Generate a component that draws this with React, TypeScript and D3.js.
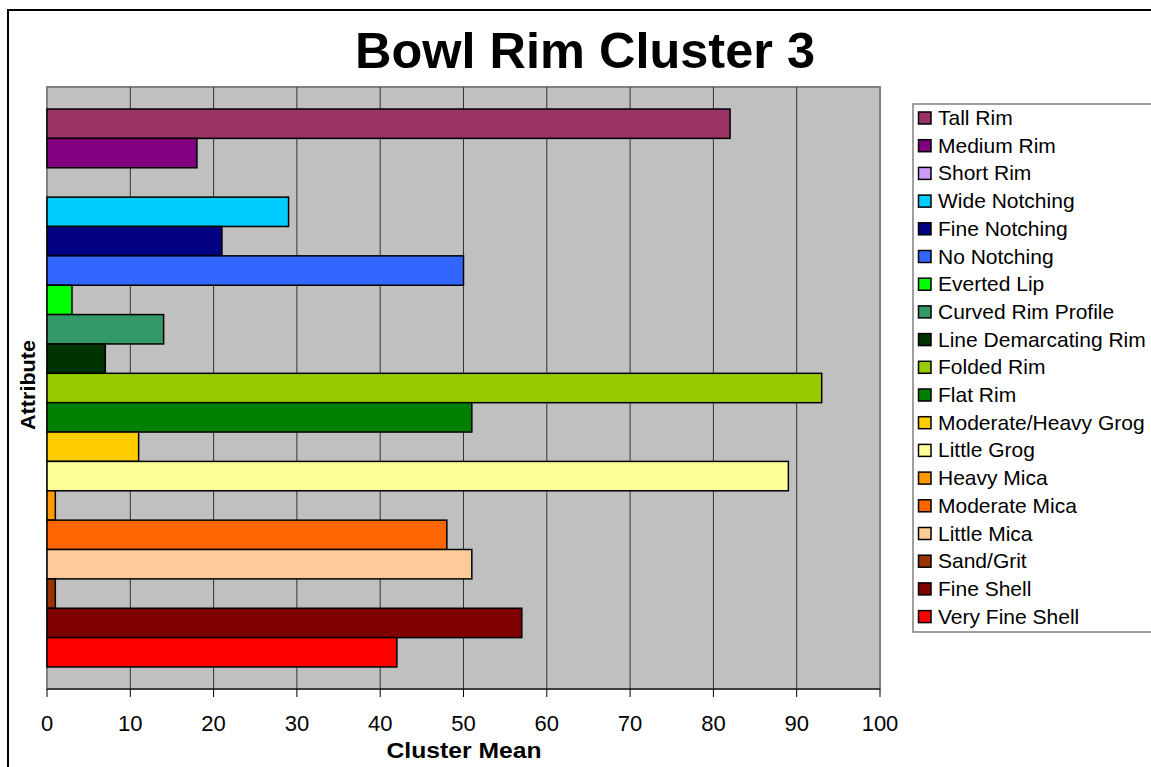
import React from "react";
import * as d3 from "d3";

const seriesNames = [
  "Tall Rim", "Medium Rim", "Short Rim", "Wide Notching", "Fine Notching", "No Notching",
  "Everted Lip", "Curved Rim Profile", "Line Demarcating Rim", "Folded Rim", "Flat Rim",
  "Moderate/Heavy Grog", "Little Grog", "Heavy Mica", "Moderate Mica", "Little Mica",
  "Sand/Grit", "Fine Shell", "Very Fine Shell",
];
const seriesValues = [82, 18, 0, 29, 21, 50, 3, 14, 7, 93, 51, 11, 89, 1, 48, 51, 1, 57, 42];
const seriesColors = [
  "#993366", "#800080", "#CC99FF", "#00CCFF", "#000080", "#3366FF", "#00FF00", "#339966",
  "#003300", "#99CC00", "#008000", "#FFCC00", "#FFFF99", "#FF9900", "#FF6600", "#FFCC99",
  "#993300", "#800000", "#FF0000",
];
const xTicks = [0, 10, 20, 30, 40, 50, 60, 70, 80, 90, 100];

const W = 1151, H = 767;
const plot = { left: 47, right: 880, top: 87, bottom: 689 };
const FONT = "Arial, 'Liberation Sans', sans-serif";

export default function App() {
  const x = d3.scaleLinear().domain([0, 100]).range([plot.left, plot.right]);
  const y = d3
    .scaleBand<string>()
    .domain(seriesNames)
    .range([plot.top, plot.bottom])
    .paddingInner(0)
    .paddingOuter(0.75);
  const legendTop = 104;
  const legendStep = 27.7;
  return (
    <svg width={W} height={H} style={{ position: "absolute", left: 0, top: 0, background: "#fff" }}>
      <rect x={8} y={10} width={W + 10} height={H + 10} fill="#fff" stroke="#000" strokeWidth={2} />
      <text x={585} y={68} textAnchor="middle" fontFamily={FONT} fontWeight="bold" fontSize={50}
        textLength={460} lengthAdjust="spacingAndGlyphs">
        Bowl Rim Cluster 3
      </text>
      <rect x={plot.left} y={plot.top} width={plot.right - plot.left} height={plot.bottom - plot.top}
        fill="#C0C0C0" stroke="#808080" strokeWidth={2} />
      {xTicks.slice(1, -1).map((t) => (
        <line key={"g" + t} x1={x(t)} x2={x(t)} y1={plot.top} y2={plot.bottom} stroke="#333" strokeWidth={1} />
      ))}
      {seriesNames.map((n, i) =>
        seriesValues[i] > 0 ? (
          <rect key={n} x={x(0)} y={y(n)!} width={x(seriesValues[i]) - x(0)} height={y.bandwidth()}
            fill={seriesColors[i]} stroke="#000" strokeWidth={1.5} />
        ) : null
      )}
      <line x1={plot.left} x2={plot.right} y1={plot.bottom} y2={plot.bottom} stroke="#000" strokeWidth={1} />
      {xTicks.map((t) => (
        <g key={"t" + t}>
          <line x1={x(t)} x2={x(t)} y1={plot.bottom} y2={plot.bottom + 8} stroke="#000" strokeWidth={1} />
          <text x={x(t)} y={731} textAnchor="middle" fontFamily={FONT} fontSize={22}>{t}</text>
        </g>
      ))}
      <text x={464} y={758} textAnchor="middle" fontFamily={FONT} fontWeight="bold" fontSize={22}
        textLength={155} lengthAdjust="spacingAndGlyphs">
        Cluster Mean
      </text>
      <text transform={`translate(35,385) rotate(-90)`} textAnchor="middle" fontFamily={FONT}
        fontWeight="bold" fontSize={21} textLength={90} lengthAdjust="spacingAndGlyphs">
        Attribute
      </text>
      <rect x={913} y={legendTop} width={260} height={528} fill="#fff" stroke="#808080" strokeWidth={1.5} />
      {seriesNames.map((n, i) => {
        const cy = legendTop + 14 + i * legendStep;
        return (
          <g key={"l" + n}>
            <rect x={918.5} y={cy - 6} width={12.5} height={12} fill={seriesColors[i]} stroke="#000" strokeWidth={1.5} />
            <text x={938} y={cy + 7} fontFamily={FONT} fontSize={21}>{n}</text>
          </g>
        );
      })}
    </svg>
  );
}
